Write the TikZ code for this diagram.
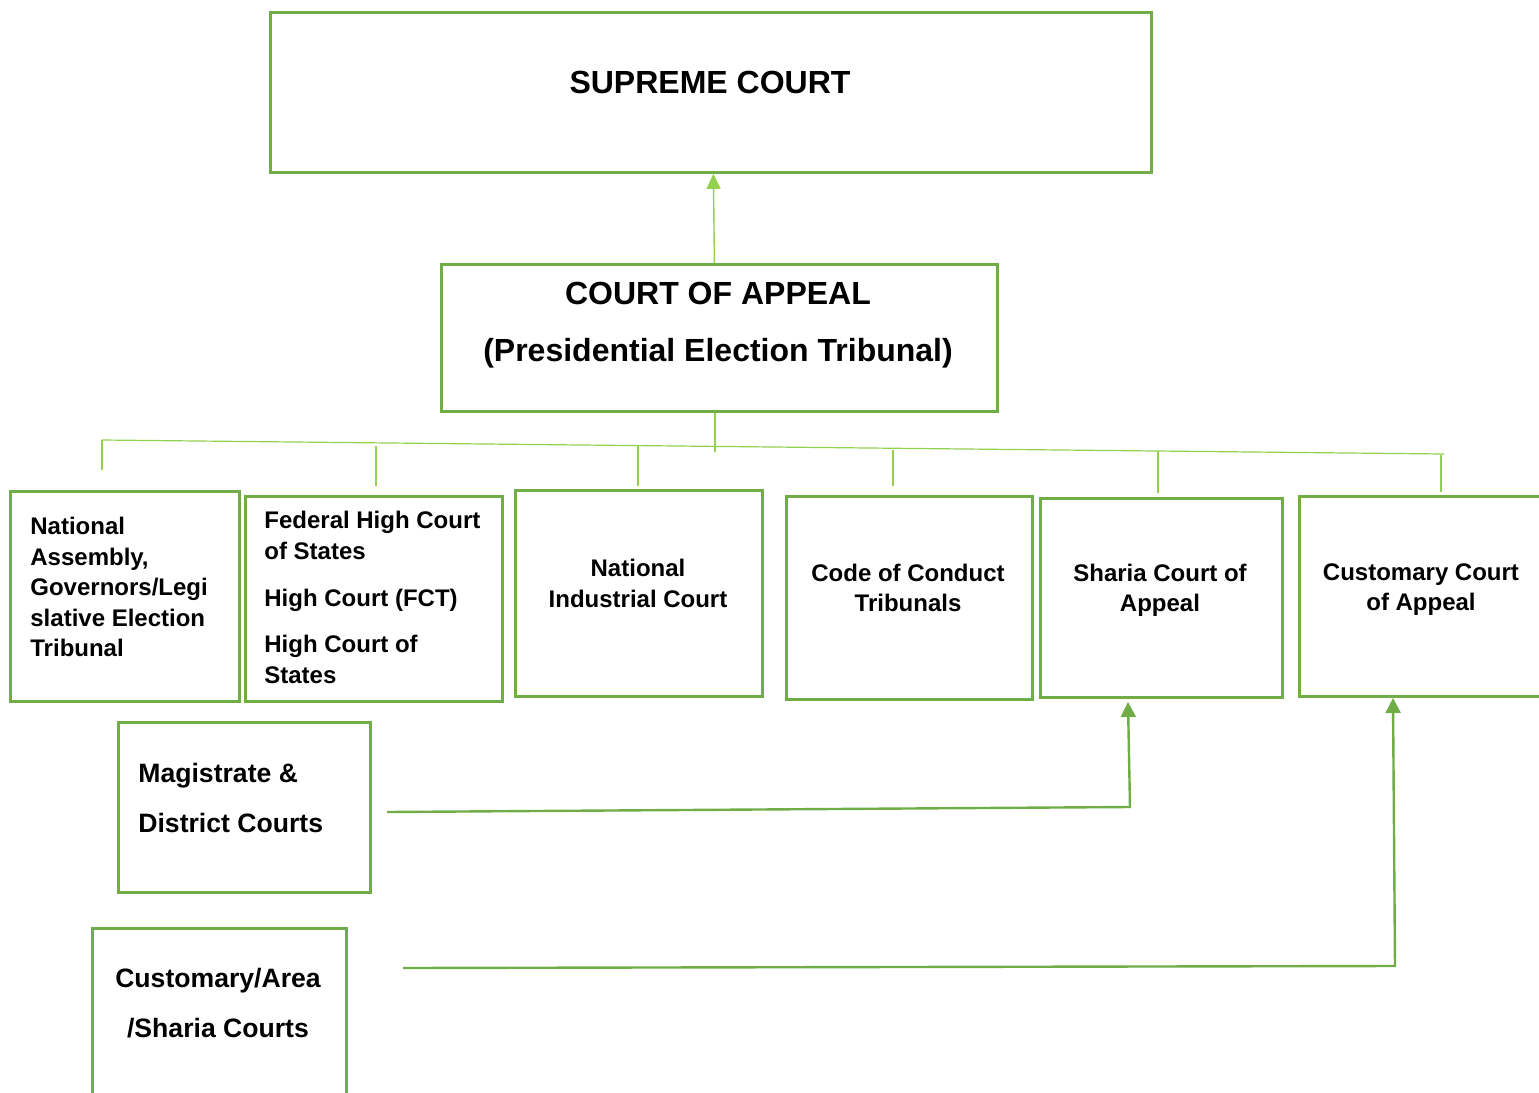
\documentclass[tikz,border=0pt]{standalone}
\usepackage{fontspec}
\setmainfont{Liberation Sans}
\usetikzlibrary{arrows.meta,positioning}
\definecolor{boxgreen}{RGB}{112,173,71}
\definecolor{linegreen}{RGB}{146,208,80}
\tikzset{
  court/.style={draw=boxgreen,line width=1.4pt,inner sep=0pt,anchor=north west},
  ctxt/.style={inner sep=0pt,align=center,font=\bfseries\fontsize{12}{15.25}\selectfont},
  ltxt/.style={ctxt,align=left,anchor=west},
  bigtxt/.style={inner sep=0pt,align=center,font=\bfseries\fontsize{16}{28.5}\selectfont},
  lowtxt/.style={inner sep=0pt,font=\bfseries\fontsize{13.3}{25}\selectfont},
  bus/.style={draw=linegreen,line width=0.6pt},
  up/.style={draw=linegreen,line width=0.7pt,-{Triangle[length=7.5pt,width=7pt]}},
  flow/.style={draw=boxgreen,line width=1.2pt,-{Triangle[length=7.5pt,width=7.5pt]}},
}
\begin{document}
\begin{tikzpicture}[x=0.5pt,y=-0.5pt]
  \useasboundingbox (0,0) rectangle (1539,1093);

  % top levels
  \node[court,minimum width=440.5pt,minimum height=80pt] (sc) at (269,11) {};
  \node[bigtxt] (sct) at (710,82) {SUPREME COURT};
  \node[court,minimum width=278pt,minimum height=73.5pt] (ca) at (440,263) {};
  \node[bigtxt] (cat) at (718,325) {COURT OF APPEAL\\(Presidential Election Tribunal)};
  \draw[up] ([xshift=-2.5pt]ca.north) -- ([xshift=1.25pt]sc.south);

  % bottom row
  \node[court,minimum width=114.5pt,minimum height=105pt] (na) at (9,490) {};
  \node[ltxt] (nat) at (30,587)
    {National\\Assembly,\\Governors/Legi\\slative Election\\Tribunal};
  \node[court,minimum width=128.5pt,minimum height=102.5pt] (fh) at (244,495) {};
  \node[ltxt] (fht) at (264,597.5)
    {Federal High Court\\of States\\[8.3pt]High Court (FCT)\\[8pt]High Court of\\States};
  \node[court,minimum width=123.5pt,minimum height=103pt] (ni) at (514,489) {};
  \node[ctxt] (nit) at (638,583.5) {National\\Industrial Court};
  \node[court,minimum width=123pt,minimum height=101.5pt] (cc) at (785,495) {};
  \node[ctxt] (cct) at (908,588) {Code of Conduct\\Tribunals};
  \node[court,minimum width=121pt,minimum height=99.5pt] (sh) at (1039,497) {};
  \node[ctxt] (sht) at (1160,590.5) {Sharia Court of\\Appeal};
  \node[court,minimum width=125pt,minimum height=100pt] (cu) at (1298,495) {};
  \node[ctxt] (cut) at (1421,589.5) {Customary Court\\of Appeal};

  % branch lines
  \coordinate (busL) at (102,440);
  \coordinate (busR) at (1444,454);
  \coordinate (camid) at (715,452);
  \draw[bus] (busL) -- (busR);
  \draw[bus] (ca.south -| camid) -- (camid);
  \foreach \n/\x/\a/\b in {na/102/440/470, fh/376/446/486, ni/638/445/486,
                           cc/893/450/486, sh/1158/451/493, cu/1441/455/492}{
    \coordinate (\n top) at (\x,\a);
    \coordinate (\n bot) at (\x,\b);
    \draw[bus] (\n top) -- (\n bot);
  }

  % lower courts
  \node[court,minimum width=126pt,minimum height=85pt] (md) at (117,721) {};
  \node[lowtxt,align=left,anchor=west] (mdt) at (138,798) {Magistrate \&\\District Courts};
  \node[court,minimum width=127pt,minimum height=90pt] (cs) at (91,927) {};
  \node[lowtxt,align=center] (cst) at (218,1003) {Customary/Area\\/Sharia Courts};

  \coordinate (mdout) at (387,812);
  \coordinate (shbend) at (1130,807);
  \coordinate (shin) at (1128,702);
  \draw[flow] (mdout) -- (shbend) -- (shin);
  \coordinate (csout) at (403,968);
  \coordinate (cubend) at (1395,966);
  \coordinate (cuin) at (1393,698);
  \draw[flow] (csout) -- (cubend) -- (cuin);
\end{tikzpicture}
\end{document}
